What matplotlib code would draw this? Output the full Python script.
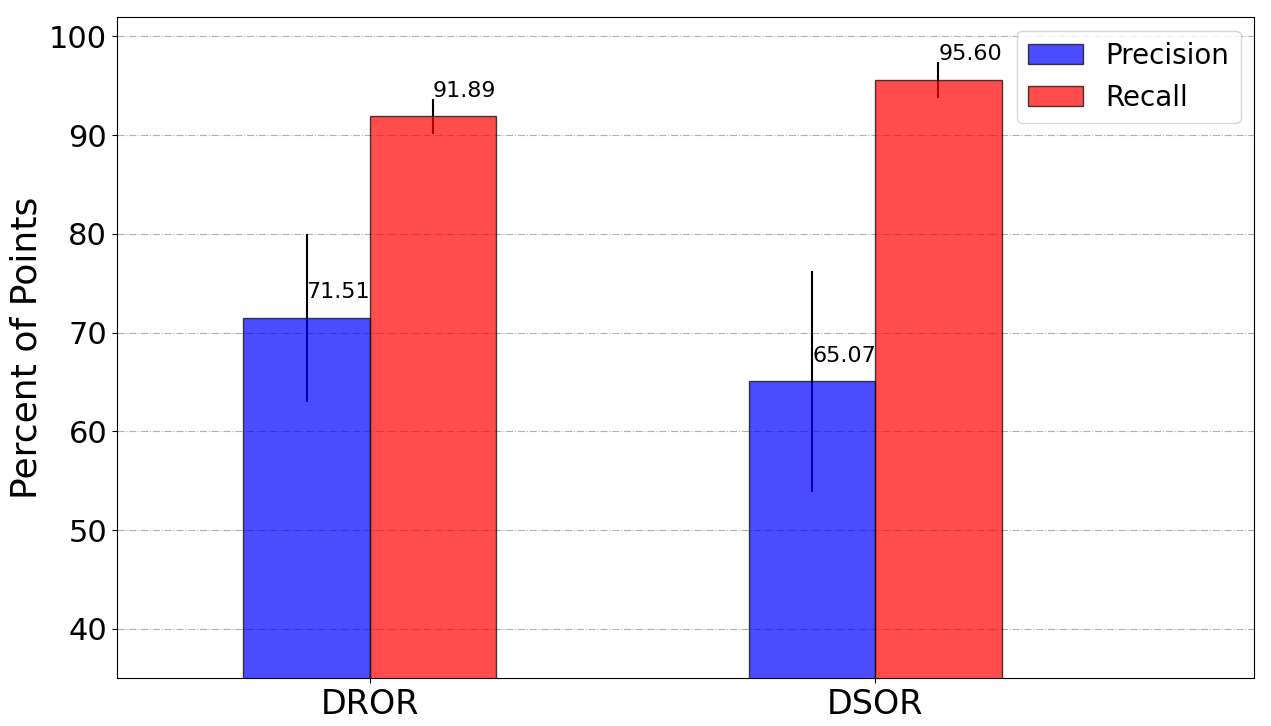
import matplotlib
matplotlib.use("Agg")
import matplotlib.pyplot as plt
import numpy as np

methods = ["DROR", "DSOR"]
precision = [71.51, 65.07]
recall = [91.89, 95.60]
precision_err = [8.5, 11.2]
recall_err = [1.8, 1.8]

x = np.arange(len(methods))
w = 0.25

fig, ax = plt.subplots(figsize=(12.71, 7.26), dpi=100)
ax.grid(axis="y", linestyle="-.", color="#b0b0b0", zorder=0)
ax.errorbar(x - w / 2, precision, yerr=precision_err, fmt="none", ecolor="black", zorder=2)
ax.errorbar(x + w / 2, recall, yerr=recall_err, fmt="none", ecolor="black", zorder=2)
ax.bar(x - w / 2, precision, w, color="blue", alpha=0.7, edgecolor="black", label="Precision", zorder=3)
ax.bar(x + w / 2, recall, w, color="red", alpha=0.7, edgecolor="black", label="Recall", zorder=3)

for xi, v in zip(x - w / 2, precision):
    ax.text(xi, v + 2, "%.2f" % v, fontsize=16, zorder=4)
for xi, v in zip(x + w / 2, recall):
    ax.text(xi, v + 2, "%.2f" % v, fontsize=16, zorder=4)

ax.set_xticks(x)
ax.set_xticklabels(methods)
ax.set_xlim(-0.5, 1.75)
ax.set_ylim(35, 102)
ax.tick_params(axis="y", labelsize=22)
ax.tick_params(axis="x", labelsize=24)
ax.set_ylabel("Percent of Points", fontsize=26)
ax.legend(loc="upper right", fontsize=20)

plt.subplots_adjust(left=0.092, right=0.987, top=0.977, bottom=0.066)
plt.savefig("out.png")
